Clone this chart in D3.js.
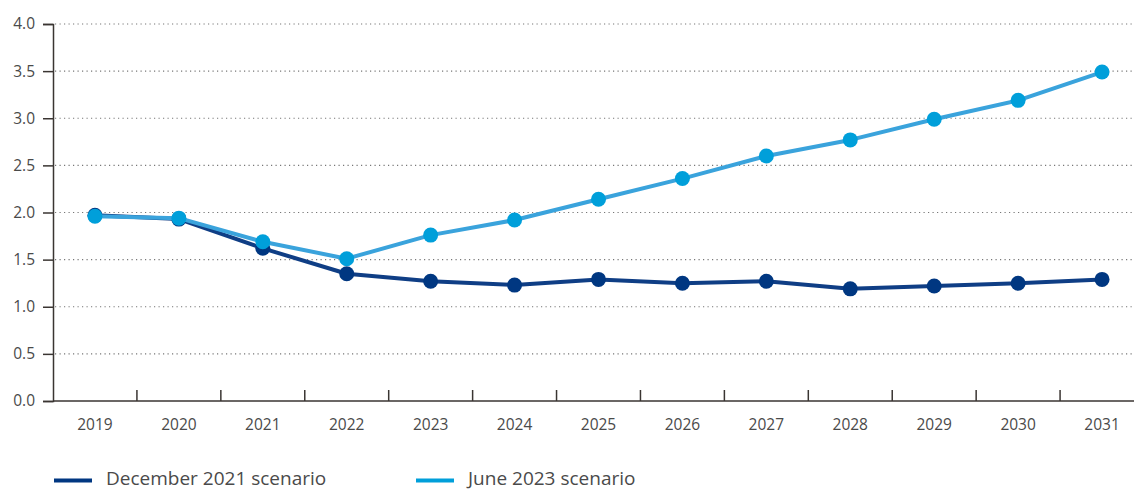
<!DOCTYPE html>
<html>
<head>
<meta charset="utf-8">
<script src="https://cdn.jsdelivr.net/npm/d3@7"></script>
<style>
  html, body { margin: 0; padding: 0; background: #fff; }
  svg { display: block; font-family: "Open Sans", "Noto Sans", sans-serif; }
</style>
</head>
<body>
<svg id="chart" width="1134" height="490"></svg>
<script>
// Categories and series values
const years = ["2019","2020","2021","2022","2023","2024","2025","2026","2027","2028","2029","2030","2031"];
const dec2021 = [1.97, 1.93, 1.62, 1.35, 1.27, 1.23, 1.29, 1.25, 1.27, 1.19, 1.22, 1.25, 1.29];
const jun2023 = [1.96, 1.94, 1.69, 1.51, 1.76, 1.92, 2.14, 2.36, 2.60, 2.77, 2.99, 3.19, 3.49];
const yTicks = [0, 0.5, 1, 1.5, 2, 2.5, 3, 3.5, 4];
const seriesNames = ["December 2021 scenario", "June 2023 scenario"];

const W = 1134, H = 490;
const plotLeft = 53, plotTop = 24, plotBottom = 401, plotRight = 1144;
const labelColor = "#4a4a4a";

const svg = d3.select("#chart");

const x = d3.scaleBand().domain(years).range([plotLeft, plotRight]).padding(0);
const y = d3.scaleLinear().domain([0, 4]).range([plotBottom, plotTop]);

// Dotted horizontal gridlines
svg.append("g")
  .selectAll("line")
  .data(yTicks.filter(d => d > 0))
  .join("line")
  .attr("x1", plotLeft + 2).attr("x2", W)
  .attr("y1", d => y(d)).attr("y2", d => y(d))
  .attr("stroke", "#777")
  .attr("stroke-width", 1.2)
  .attr("stroke-dasharray", "1.2,3.3");

// Y axis
const yAxis = svg.append("g")
  .attr("transform", `translate(${plotLeft},0)`)
  .call(d3.axisLeft(y).tickValues(yTicks).tickFormat(d3.format(".1f")).tickSize(10).tickPadding(8));
yAxis.attr("font-family", null).attr("font-size", null);
yAxis.select(".domain").attr("stroke", "#3a3532").attr("stroke-width", 1.5);
yAxis.selectAll(".tick line").attr("stroke", "#3a3532").attr("stroke-width", 1.5);
yAxis.selectAll(".tick text").attr("fill", labelColor).style("font-size", "15.5px");

// X axis: baseline plus upward ticks at band boundaries
svg.append("line")
  .attr("x1", plotLeft).attr("x2", W)
  .attr("y1", plotBottom).attr("y2", plotBottom)
  .attr("stroke", "#3a3532").attr("stroke-width", 1.5);

svg.append("g")
  .selectAll("line")
  .data(years.slice(1))
  .join("line")
  .attr("x1", d => x(d)).attr("x2", d => x(d))
  .attr("y1", plotBottom).attr("y2", plotBottom - 11)
  .attr("stroke", "#3a3532").attr("stroke-width", 1.5);

svg.append("g")
  .selectAll("text")
  .data(years)
  .join("text")
  .attr("x", d => x(d) + x.bandwidth() / 2)
  .attr("y", 430)
  .attr("text-anchor", "middle")
  .attr("fill", labelColor)
  .style("font-size", "15.5px")
  .text(d => d);

// Lines and markers
const line = d3.line()
  .x((d, i) => x(years[i]) + x.bandwidth() / 2)
  .y(d => y(d));

const series = [
  { name: seriesNames[0], values: dec2021, lineColor: "#0f3e85", dotColor: "#003781" },
  { name: seriesNames[1], values: jun2023, lineColor: "#3aa3dc", dotColor: "#009fda" }
];

series.forEach(s => {
  svg.append("path")
    .datum(s.values)
    .attr("d", line)
    .attr("fill", "none")
    .attr("stroke", s.lineColor)
    .attr("stroke-width", 4)
    .attr("stroke-linejoin", "round");
  svg.append("g")
    .selectAll("circle")
    .data(s.values)
    .join("circle")
    .attr("cx", (d, i) => x(years[i]) + x.bandwidth() / 2)
    .attr("cy", d => y(d))
    .attr("r", 7.5)
    .attr("fill", s.dotColor);
});

// Legend
const legendX = [54, 416];
const legend = svg.append("g");
series.forEach((s, i) => {
  legend.append("line")
    .attr("x1", legendX[i]).attr("x2", legendX[i] + 38)
    .attr("y1", 480.5).attr("y2", 480.5)
    .attr("stroke", s.dotColor).attr("stroke-width", 4);
  legend.append("text")
    .attr("x", legendX[i] + 52)
    .attr("y", 485)
    .attr("fill", labelColor)
    .style("font-size", "19px")
    .text(s.name);
});
</script>
</body>
</html>
